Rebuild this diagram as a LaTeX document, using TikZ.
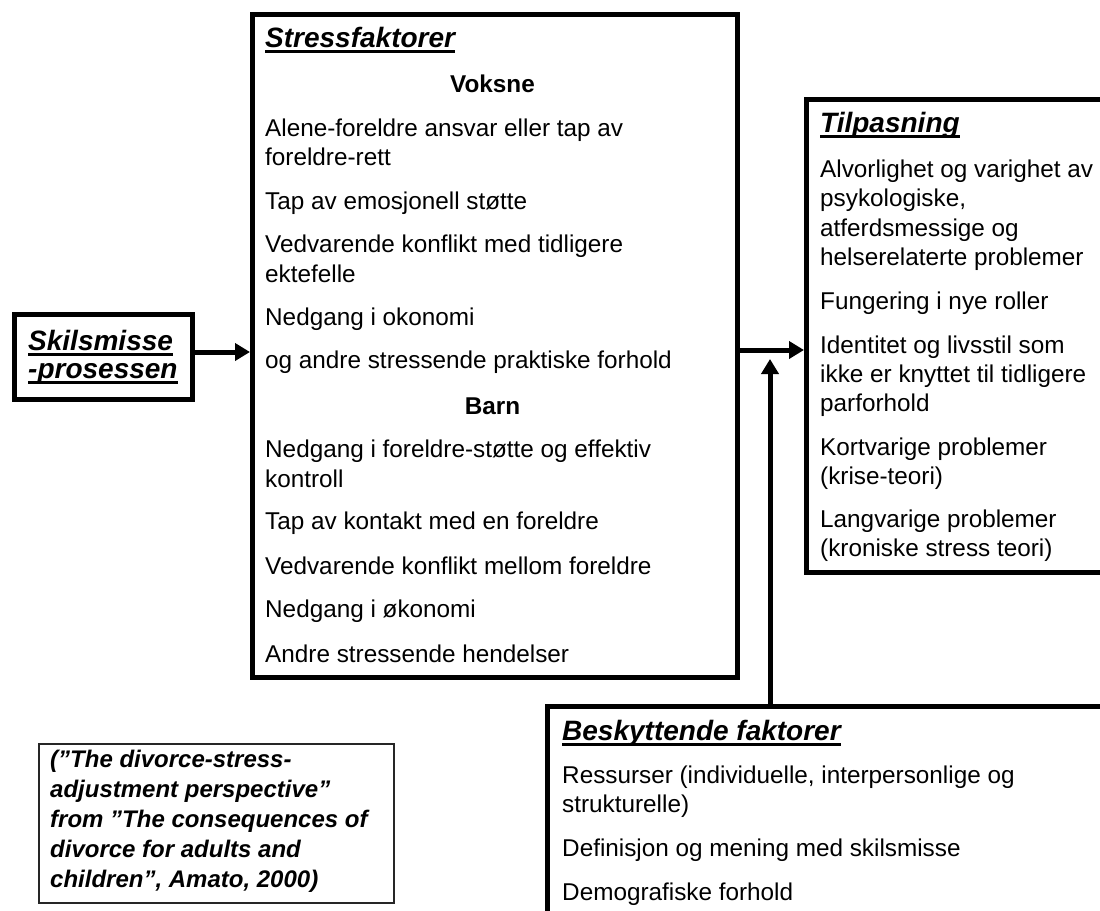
\documentclass[tikz,border=0pt]{standalone}
\usepackage{fontspec}
\setmainfont{Liberation Sans}
\usetikzlibrary{arrows.meta}
\newcommand\ulword[1]{\setbox0\hbox{#1}\rlap{\rule[-5.5pt]{\wd0}{2.2pt}}\box0}
\tikzset{
  thickbox/.style={draw=black, line width=5pt, fill=white, inner sep=0pt, anchor=north west},
  thinbox/.style={draw=black!85, line width=1.5pt, fill=white, inner sep=0pt, anchor=north west},
  txt/.style={anchor=base west, inner sep=0pt, font=\fontsize{24.3}{29}\selectfont},
  ctxt/.style={anchor=base, inner sep=0pt, font=\fontsize{24.3}{29}\selectfont\bfseries},
  ttl/.style={anchor=base west, inner sep=0pt, font=\fontsize{28}{32}\selectfont\bfseries\itshape},
  cite/.style={anchor=base west, inner sep=0pt, font=\fontsize{24}{29}\selectfont\bfseries\itshape},
  arrow/.style={line width=5pt, -{Triangle[length=15pt,width=17pt]}}
}
\begin{document}
\begin{tikzpicture}[x=1pt,y=-1pt]
\clip (0,0) rectangle (1100,910);
\fill[white] (0,0) rectangle (1100,910);

% boxes
\node[thickbox, minimum width=178pt, minimum height=85pt] (skil) at (12,312) {};
\node[thickbox, minimum width=485pt, minimum height=663pt] (stress) at (250,12) {};
\node[thickbox, minimum width=320pt, minimum height=473pt] (tilp) at (804,97) {};
\node[thickbox, minimum width=580pt, minimum height=260pt] (besk) at (545,704) {};
\node[thinbox, minimum width=355pt, minimum height=159pt] (cite) at (38,743) {};

% Skilsmisse
\node[ttl] (s1) at (28,350) {\ulword{Skilsmisse}};
\node[ttl] (s2) at (28,378) {\ulword{-prosessen}};

% Stressfaktorer
\node[ttl] (st0) at (265,47) {\ulword{Stressfaktorer}};
\node[ctxt] (stv) at (492.5,92) {Voksne};
\node[txt] (st1) at (265,136) {Alene-foreldre ansvar eller tap av};
\node[txt] (st2) at (265,165) {foreldre-rett};
\node[txt] (st3) at (265,209) {Tap av emosjonell støtte};
\node[txt] (st4) at (265,252) {Vedvarende konflikt med tidligere};
\node[txt] (st5) at (265,282) {ektefelle};
\node[txt] (st6) at (265,325) {Nedgang i okonomi};
\node[txt] (st7) at (265,368) {og andre stressende praktiske forhold};
\node[ctxt] (stb) at (492.5,414) {Barn};
\node[txt] (st8) at (265,457) {Nedgang i foreldre-støtte og effektiv};
\node[txt] (st9) at (265,487) {kontroll};
\node[txt] (st10) at (265,529) {Tap av kontakt med en foreldre};
\node[txt] (st11) at (265,574) {Vedvarende konflikt mellom foreldre};
\node[txt] (st12) at (265,617) {Nedgang i økonomi};
\node[txt] (st13) at (265,662) {Andre stressende hendelser};

% Tilpasning
\node[ttl] (t0) at (820,132) {\ulword{Tilpasning}};
\node[txt] (t1) at (820,177) {Alvorlighet og varighet av};
\node[txt] (t2) at (820,206) {psykologiske,};
\node[txt] (t3) at (820,236) {atferdsmessige og};
\node[txt] (t4) at (820,265) {helserelaterte problemer};
\node[txt] (t5) at (820,309) {Fungering i nye roller};
\node[txt] (t6) at (820,353) {Identitet og livsstil som};
\node[txt] (t7) at (820,382) {ikke er knyttet til tidligere};
\node[txt] (t8) at (820,411) {parforhold};
\node[txt] (t9) at (820,455) {Kortvarige problemer};
\node[txt] (t10) at (820,484) {(krise-teori)};
\node[txt] (t11) at (820,527) {Langvarige problemer};
\node[txt] (t12) at (820,556) {(kroniske stress teori)};

% Beskyttende faktorer
\node[ttl] (b0) at (562,740) {\ulword{Beskyttende faktorer}};
\node[txt] (b1) at (562,783) {Ressurser (individuelle, interpersonlige og};
\node[txt] (b2) at (562,812) {strukturelle)};
\node[txt] (b3) at (562,856) {Definisjon og mening med skilsmisse};
\node[txt] (b4) at (562,900) {Demografiske forhold};

% citation
\node[cite] (c1) at (50,767) {(”The divorce-stress-};
\node[cite] (c2) at (50,797) {adjustment perspective”};
\node[cite] (c3) at (50,827) {from ”The consequences of};
\node[cite] (c4) at (50,857) {divorce for adults and};
\node[cite] (c5) at (50,887) {children”, Amato, 2000)};

% connectors
\coordinate (tip) at (770,359);
\draw[arrow] (skil.east |- 0,352) -- (stress.west |- 0,352);
\draw[arrow] (stress.east |- 0,350) -- (tilp.west |- 0,350);
\draw[arrow] (besk.north -| tip) -- (tip);
\end{tikzpicture}
\end{document}
